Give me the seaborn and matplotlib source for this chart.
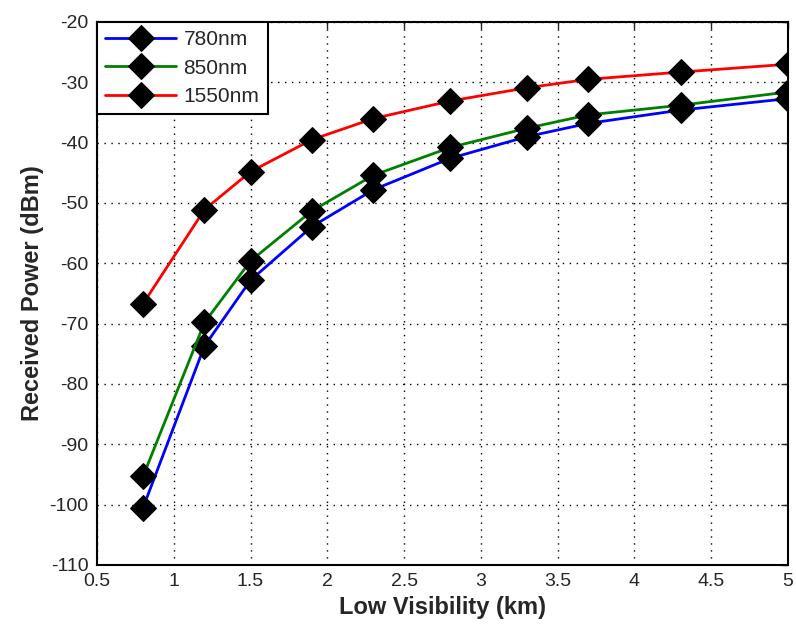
import numpy as np
import pandas as pd
import matplotlib
matplotlib.use("Agg")
import matplotlib.pyplot as plt
import seaborn as sns
from matplotlib.ticker import FormatStrFormatter

# visibility (km)
visibility = [0.8, 1.2, 1.5, 1.9, 2.3, 2.8, 3.3, 3.7, 4.3, 5.0]
# received power (dBm) per wavelength
p_780 = [-100.5, -73.7, -62.8, -53.9, -47.8, -42.6, -39.0, -36.8, -34.6, -32.7]
p_850 = [-95.3, -69.8, -59.6, -51.3, -45.4, -40.8, -37.6, -35.4, -33.8, -31.6]
p_1550 = [-66.7, -51.1, -44.8, -39.5, -36.0, -33.1, -30.9, -29.5, -28.3, -27.0]
labels = ['780nm', '850nm', '1550nm']
colors = ['#0000ff', '#008000', '#ff0000']

frames = []
for lab, vals in zip(labels, [p_780, p_850, p_1550]):
    frames.append(pd.DataFrame({'vis': visibility, 'power': vals, 'wl': lab}))
data = pd.concat(frames, ignore_index=True)

sns.set_style("white")
plt.rcParams['font.family'] = ['Liberation Sans', 'DejaVu Sans']
plt.rcParams['axes.linewidth'] = 1.5
plt.rcParams['axes.unicode_minus'] = False

fig = plt.figure(figsize=(7.96, 6.29), dpi=100)
ax = fig.add_axes([97 / 796, 1 - 565 / 629, (788 - 97) / 796, (565 - 22) / 629])

for lab, col in zip(labels, colors):
    sns.lineplot(data=data[data['wl'] == lab], x='vis', y='power', ax=ax,
                 color=col, linewidth=2, marker='D', markersize=13,
                 markerfacecolor='k', markeredgecolor='k', label=lab)

ax.set_xlim(0.5, 5)
ax.set_ylim(-110, -20)
ax.set_xticks(np.arange(0.5, 5.01, 0.5))
ax.set_yticks(np.arange(-110, -19, 10))
ax.xaxis.set_major_formatter(FormatStrFormatter('%g'))
ax.tick_params(axis='both', direction='in', length=5, width=1, labelsize=14,
               top=True, right=True, pad=6)
ax.grid(True, linestyle=(0, (1, 4)), color='k', linewidth=1)
for sp in ax.spines.values():
    sp.set_color('k')

ax.set_xlabel('Low Visibility (km)', fontsize=17, fontweight='bold')
ax.set_ylabel('Received Power (dBm)', fontsize=17, fontweight='bold')

leg = ax.legend(loc='upper left', borderaxespad=0, fancybox=False,
                edgecolor='k', fontsize=15, handlelength=3.4, framealpha=1,
                borderpad=0.4, labelspacing=0.45, handletextpad=0.35)
leg.get_frame().set_linewidth(1.5)

fig.savefig('out.png', dpi=100, facecolor='white')
